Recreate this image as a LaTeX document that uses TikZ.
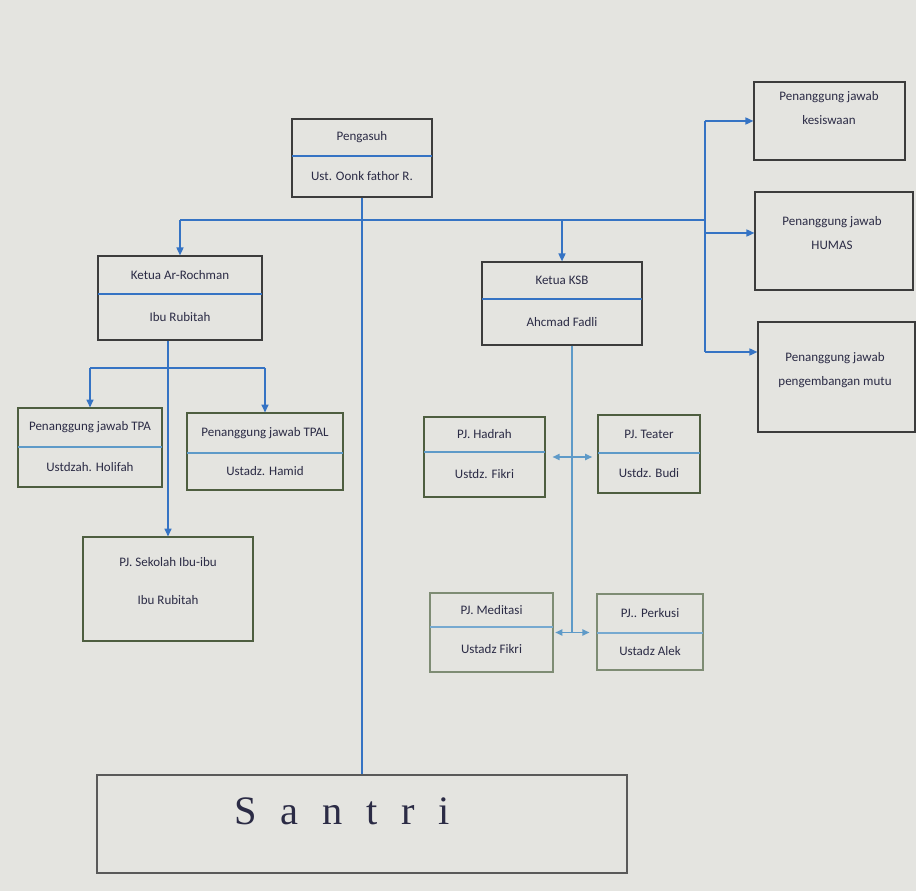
\documentclass[tikz,border=0pt]{standalone}
\usepackage{fontspec}
\setmainfont{Carlito}
\newfontfamily\serifface{Liberation Serif}
\usetikzlibrary{arrows.meta,fit}

\definecolor{paper}{HTML}{E4E4E0}
\definecolor{ink}{HTML}{2B2B45}
\definecolor{frame}{HTML}{3C3C3C}
\definecolor{olive}{HTML}{4E5E40}
\definecolor{sage}{HTML}{7E8C74}
\definecolor{wordblue}{HTML}{3573C4}
\definecolor{paleblue}{HTML}{5E9AC8}

\tikzset{
  top box/.style={draw=frame, line width=0.7pt, inner sep=0pt},
  low box/.style={draw=olive, line width=0.6pt, inner sep=0pt},
  pale box/.style={draw=sage, line width=0.6pt, inner sep=0pt},
  top div/.style={draw=wordblue, line width=1pt},
  low div/.style={draw=paleblue, line width=0.9pt},
  pale div/.style={draw=paleblue!85, line width=0.9pt},
  lbl/.style={text=ink, font=\fontsize{7.4}{9}\selectfont, align=center, inner sep=1pt},
  note/.style={font=\fontsize{7.4}{14}\selectfont},
  link/.style={draw=wordblue, line width=0.8pt},
  tip link/.style={link, -{Triangle[length=4.5pt,width=4pt]}},
  pale link/.style={draw=paleblue, line width=0.8pt},
  pale tips/.style={pale link, {Triangle[length=4pt,width=3.5pt]}-{Triangle[length=4pt,width=3.5pt]}},
}

% box with a line across: [kind]{name}{left}{top}{right}{bottom}{divider}{upper}{lower}
\newcommand\orgbox[9][top]{%
  \node[#1 box, fit={(#3,#4) (#5,#6)}] (#2) {};
  \pgfmathsetmacro\midx{(#3+#5)/2}
  \pgfmathsetmacro\upy{(#4+#7)/2}
  \pgfmathsetmacro\lowy{(#7+#6)/2}
  \draw[#1 div] (#3,#7) -- (#5,#7);
  \node[lbl] (#2-up) at (\midx,\upy) {#8};
  \node[lbl] (#2-low) at (\midx,\lowy) {#9};
}

\begin{document}
\begin{tikzpicture}[x=0.02cm, y=-0.02cm]
  \fill[paper] (0,0) rectangle (916,891);
  \useasboundingbox (0,0) rectangle (916,891);

  % top
  \orgbox[top]{peng}{292}{119}{432}{197}{156}{Pengasuh}{Ust. Oonk fathor R.}
  \orgbox[top]{ar}{98}{256}{262}{340}{294}{Ketua Ar-Rochman}{Ibu Rubitah}
  \orgbox[top]{ksb}{482}{262}{642}{345}{299}{Ketua KSB}{Ahcmad Fadli}

  % right column
  \node[top box, fit={(754,82) (905,160)}] (kes) {};
  \node[lbl, note] (kes-txt) at (829,108) {Penanggung jawab\\kesiswaan};
  \node[top box, fit={(755,192) (913,290)}] (humas) {};
  \node[lbl, note] (humas-txt) at (832,233) {Penanggung jawab\\HUMAS};
  \node[top box, fit={(758,322) (915,432)}] (mutu) {};
  \node[lbl, note] (mutu-txt) at (835,370) {Penanggung jawab\\pengembangan mutu};

  % Ar-Rochman side
  \orgbox[low]{tpa}{18}{408}{162}{487}{447}{Penanggung jawab TPA}{Ustdzah. Holifah}
  \orgbox[low]{tpal}{187}{413}{343}{490}{453}{Penanggung jawab TPAL}{Ustadz. Hamid}
  \node[low box, fit={(83,537) (253,641)}] (sek) {};
  \node[lbl] (sek-up) at (168,562) {PJ. Sekolah Ibu-ibu};
  \node[lbl] (sek-low) at (168,600) {Ibu Rubitah};

  % KSB side
  \orgbox[low]{hadrah}{424}{417}{545}{497}{452}{PJ. Hadrah}{Ustdz. Fikri}
  \orgbox[low]{teater}{598}{415}{700}{493}{453}{PJ. Teater}{Ustdz. Budi}
  \orgbox[pale]{medi}{430}{593}{553}{672}{627}{PJ. Meditasi}{Ustadz Fikri}
  \orgbox[pale]{perk}{597}{594}{703}{670}{633}{PJ.. Perkusi}{Ustadz Alek}

  % bottom
  \node[draw=gray!70!black, line width=0.6pt, inner sep=0pt, fit={(97,775) (627,873)}] (santri) {};
  \node[text=ink, inner sep=0pt] (santri-txt) at (342,811)
    {\serifface\fontsize{23}{26}\selectfont\spaceskip=13.5pt S a n t r i};

  % connectors
  \coordinate (hub) at (705,220);
  \coordinate (split) at (0,368);
  \draw[link] (peng.south) -- (santri.north);
  \draw[link] (ar.north |- hub) -- (hub);
  \draw[tip link] (ar.north |- hub) -- (ar.north);
  \draw[tip link] (ksb.north |- hub) -- (ksb.north);
  \draw[link] (hub |- kes.west) -- (hub |- 0,352);
  \draw[tip link] (hub |- kes.west) -- (kes.west);
  \draw[tip link] (hub |- 0,233) -- (humas.west |- 0,233);
  \draw[tip link] (hub |- 0,352) -- (mutu.west |- 0,352);

  \draw[tip link] (ar.south -| sek.north) -- (sek.north);
  \draw[link] (tpa.north |- split) -- (tpal.north |- split);
  \draw[tip link] (tpa.north |- split) -- (tpa.north);
  \draw[tip link] (tpal.north |- split) -- (tpal.north);

  \draw[pale link] ([xshift=0.2cm]ksb.south) -- ([xshift=0.2cm]ksb.south |- medi.east);
  \draw[pale tips, shorten <=4pt, shorten >=3pt] (hadrah.east) -- (hadrah.east -| teater.west);
  \draw[pale tips, shorten <=1pt, shorten >=4pt] (medi.east) -- (medi.east -| perk.west);
\end{tikzpicture}
\end{document}
